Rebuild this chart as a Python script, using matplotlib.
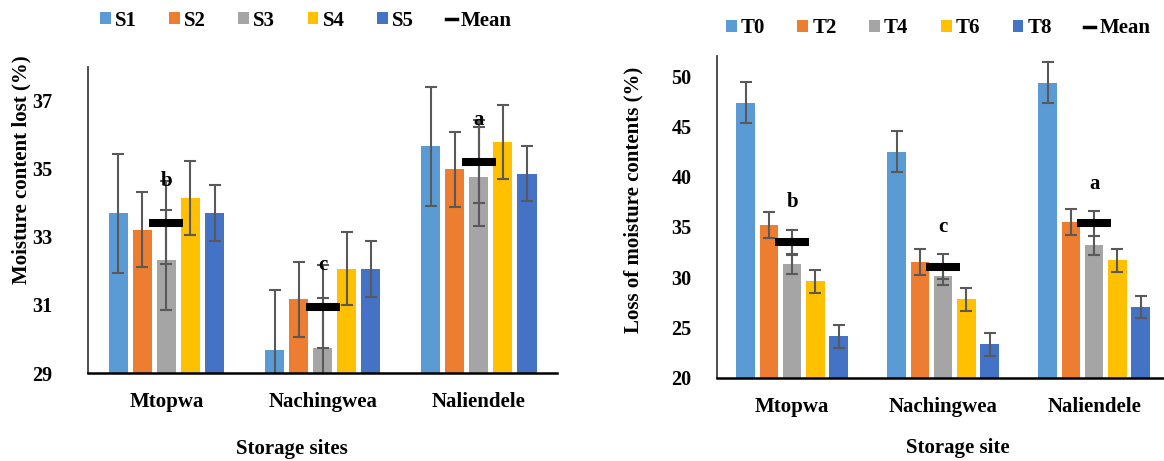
import matplotlib
matplotlib.use("Agg")
import matplotlib.pyplot as plt
from matplotlib.patches import Patch
from matplotlib.lines import Line2D
import numpy as np

plt.rcParams['font.family'] = ['Liberation Serif', 'DejaVu Serif']
plt.rcParams['font.weight'] = 'bold'

sites = ['Mtopwa', 'Nachingwea', 'Naliendele']
colors = ['#5B9BD5', '#ED7D31', '#A5A5A5', '#FFC000', '#4472C4']

# left chart: moisture content lost per season
s_names = ['S1', 'S2', 'S3', 'S4', 'S5']
s_vals = [
    [33.69, 29.68, 35.66],
    [33.21, 31.17, 34.98],
    [32.32, 29.73, 34.77],
    [34.14, 32.07, 35.79],
    [33.71, 32.06, 34.86],
]
s_err = [1.75, 1.10, 1.46, 1.08, 0.82]
s_mean_err = [1.22, 1.22, 1.22]
s_letters = ['b', 'c', 'a']

# right chart: loss of moisture contents per time
t_names = ['T0', 'T2', 'T4', 'T6', 'T8']
t_vals = [
    [47.34, 42.50, 49.36],
    [35.15, 31.50, 35.48],
    [31.27, 30.14, 33.19],
    [29.61, 27.79, 31.70],
    [24.12, 23.32, 27.03],
]
t_err = [2.03, 1.29, 0.95, 1.14, 1.13]
t_mean_err = [1.23, 1.23, 1.23]
t_letters = ['b', 'c', 'a']

W, H = 1164, 461
fig = plt.figure(figsize=(W / 100, H / 100), dpi=100)

ebar = dict(fmt='none', ecolor='#595959', elinewidth=1.5, capsize=4.3, capthick=1.5, zorder=3)


def draw(ax, names, vals, err, mean_err, letters, ylim, yticks, letter_off, xmax, ypad):
    x = np.arange(len(sites))
    pitch = 0.154
    for i, name in enumerate(names):
        xi = x + (i - 2) * pitch
        ax.bar(xi, np.array(vals[i]) - ylim[0], width=0.122, bottom=ylim[0],
               color=colors[i], zorder=2)
        ax.errorbar(xi, vals[i], yerr=err[i], **ebar)
    means = np.mean(np.array(vals), axis=0)
    ax.errorbar(x, means, yerr=mean_err, **ebar)
    ax.plot(x, means, ls='none', marker='_', ms=25, mew=5.8, color='black', zorder=4)
    for xi, m, e, lab in zip(x, means, mean_err, letters):
        ax.text(xi, m + e + letter_off, lab, ha='center', va='center',
                fontsize=15, fontweight='bold', zorder=5)
    ax.set_xlim(-0.5, xmax)
    ax.set_ylim(*ylim)
    ax.set_yticks(yticks)
    ax.set_xticks(x)
    ax.set_xticklabels(sites, fontsize=15, fontweight='bold')
    ax.tick_params(axis='y', length=0, pad=ypad, labelsize=14.5)
    ax.tick_params(axis='x', length=0, pad=14)
    for t in ax.get_yticklabels():
        t.set_fontweight('bold')
    ax.spines['top'].set_visible(False)
    ax.spines['right'].set_visible(False)
    ax.spines['left'].set_color('#404040')
    ax.spines['left'].set_linewidth(1.3)
    ax.spines['bottom'].set_color('black')
    ax.spines['bottom'].set_linewidth(1.8)
    for sp in ax.spines.values():
        sp.set_zorder(6)


def legend(names, cx, cy):
    handles = [Patch(facecolor=c, edgecolor='none') for c in colors]
    handles.append(Line2D([], [], color='black', lw=2.5))
    fig.legend(handles, names + ['Mean'], loc='center', bbox_to_anchor=(cx / W, 1 - cy / H),
               ncol=6, frameon=False, handlelength=0.52, handleheight=0.52,
               handletextpad=0.2, columnspacing=1.55,
               prop={'size': 15, 'weight': 'bold', 'family': 'Liberation Serif'})


ax1 = fig.add_axes([88.3 / W, 1 - 373 / H, (557 - 88.3) / W, (373 - 66.7) / H])
draw(ax1, s_names, s_vals, s_err, s_mean_err, s_letters, (29, 38), [29, 31, 33, 35, 37],
     0.0, 2.5, 26)
legend(s_names, 306, 20.7)
fig.text(21.7 / W, 1 - 170 / H, 'Moisture content lost (%)', rotation=90, ha='center',
         va='center', fontsize=15, fontweight='bold')
fig.text(292 / W, 1 - 449 / H, 'Storage sites', ha='center', va='center',
         fontsize=15, fontweight='bold')

ax2 = fig.add_axes([716.7 / W, 1 - 377.7 / H, (W - 716.7) / W, (377.7 - 56) / H])
draw(ax2, t_names, t_vals, t_err, t_mean_err, t_letters, (20, 52), [20, 25, 30, 35, 40, 45, 50],
     2.7, -0.5 + (W - 716.7) / 151, 18)
legend(t_names, 938, 28.3)
fig.text(633.3 / W, 1 - 200 / H, 'Loss of moisture contents (%)', rotation=90, ha='center',
         va='center', fontsize=15, fontweight='bold')
fig.text(958 / W, 1 - 448 / H, 'Storage site', ha='center', va='center',
         fontsize=15, fontweight='bold')

fig.savefig('out.png', dpi=100)
